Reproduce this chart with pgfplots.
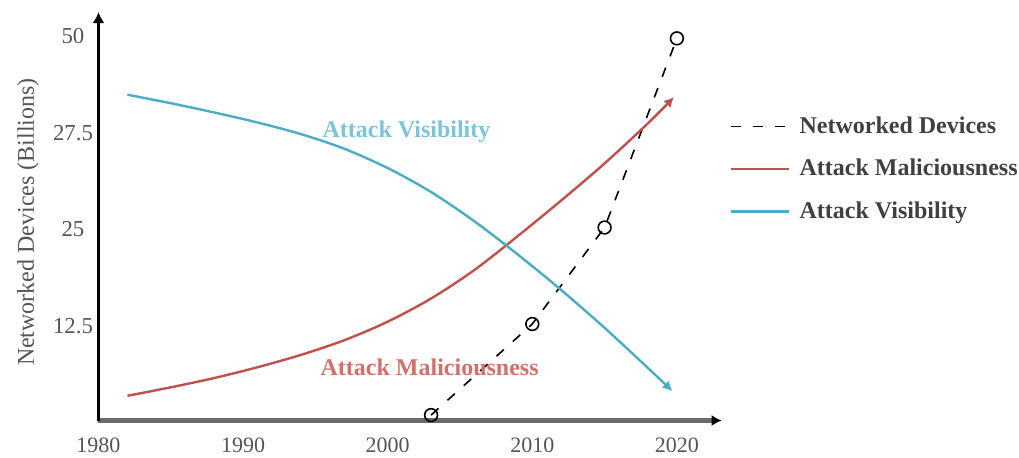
\documentclass[border=0pt]{standalone}
\usepackage{fontspec}
\setmainfont{Liberation Serif}
\usepackage{pgfplots}
\pgfplotsset{compat=1.18}
\usetikzlibrary{arrows.meta}
\definecolor{redc}{HTML}{C0504D}
\definecolor{bluec}{HTML}{4BACC6}
\definecolor{redlab}{HTML}{D2706D}
\definecolor{bluelab}{HTML}{7CC4D8}
\definecolor{ticktxt}{HTML}{555555}
\definecolor{legtxt}{HTML}{404040}
\definecolor{xaxis}{HTML}{6A6A6A}
\begin{document}
\begin{tikzpicture}[x=1pt,y=1pt]
\useasboundingbox (0,0) rectangle (509.5,228.5);
\begin{axis}[
  at={(49.25pt,18.25pt)}, anchor=south west,
  x=7.23pt, y=3.86pt,
  xmin=1980, xmax=2023.1, ymin=0, ymax=52.9,
  axis lines=left,
  clip=false,
  enlargelimits=false,
  x axis line style={draw=xaxis, line width=2.5pt, -{Latex[length=5pt,width=5.5pt,black]}},
  y axis line style={draw=black, line width=1.5pt, -{Latex[length=5.5pt,width=6pt,black]}},
  major tick length=0pt,
  xtick={1980,1990,2000,2010,2020},
  xticklabels={1980,1990,2000,2010,2020},
  ytick={12.5,25,37.5,50},
  yticklabels={12.5,25,27.5,50},
  xticklabel style={anchor=center, yshift=-12.25pt, font=\fontsize{11}{13}\selectfont, text=ticktxt},
  yticklabel style={anchor=center, xshift=-12.75pt, yshift=-1pt, font=\fontsize{11.4}{13}\selectfont, text=ticktxt},
  ylabel={Networked Devices (Billions)},
  ylabel style={at={(axis description cs:-0.113,0.486)}, anchor=center, font=\fontsize{12}{14}\selectfont, text=ticktxt},
  legend image code/.code={\draw[#1,arrows=-] (0pt,0pt) -- (29pt,0pt);},
  legend style={draw=none, fill=none, at={(axis description cs:1.013,0.755)}, anchor=north west,
    font=\bfseries\fontsize{12}{14}\selectfont, text=legtxt, inner sep=0pt, row sep=7.5pt,
    /tikz/every odd column/.append style={column sep=2.5pt}},
  legend cell align=left,
]
\addplot[black, line width=0.8pt, dash pattern=on 5pt off 6pt, mark=o, mark size=3.2pt,
  mark options={solid, line width=0.8pt}]
  coordinates {(2003,0.7) (2010,12.5) (2015,25) (2020,49.5)};
\addlegendentry{Networked Devices}
\addplot[redc, line width=1.2pt, smooth, -{Latex[length=5pt,width=5pt]}]
  coordinates {(1982,3.2) (1985,4.3) (1988,5.5) (1991,6.9) (1994,8.5) (1997,10.4)
  (2000,12.8) (2003,15.8) (2006,19.5) (2009,23.9) (2012,28.5) (2015,33.3) (2018,38.5) (2019.8,41.9)};
\addlegendentry{Attack Maliciousness}
\addplot[bluec, line width=1.2pt, smooth, -{Latex[length=5pt,width=5pt]}]
  coordinates {(1982,42.2) (1985,41.1) (1988,39.9) (1991,38.6) (1994,37.1) (1997,35.2)
  (2000,32.7) (2003,29.6) (2006,25.8) (2009,21.5) (2012,16.9) (2015,12.0) (2018,6.8) (2019.7,3.8)};
\addlegendentry{Attack Visibility}
\node[text=bluelab, font=\bfseries\fontsize{12}{14}\selectfont] at (axis cs:2001.3,37.4) {Attack Visibility};
\node[text=redlab, font=\bfseries\fontsize{12}{14}\selectfont] at (axis cs:2002.9,6.9) {Attack Maliciousness};
\end{axis}
\end{tikzpicture}
\end{document}
